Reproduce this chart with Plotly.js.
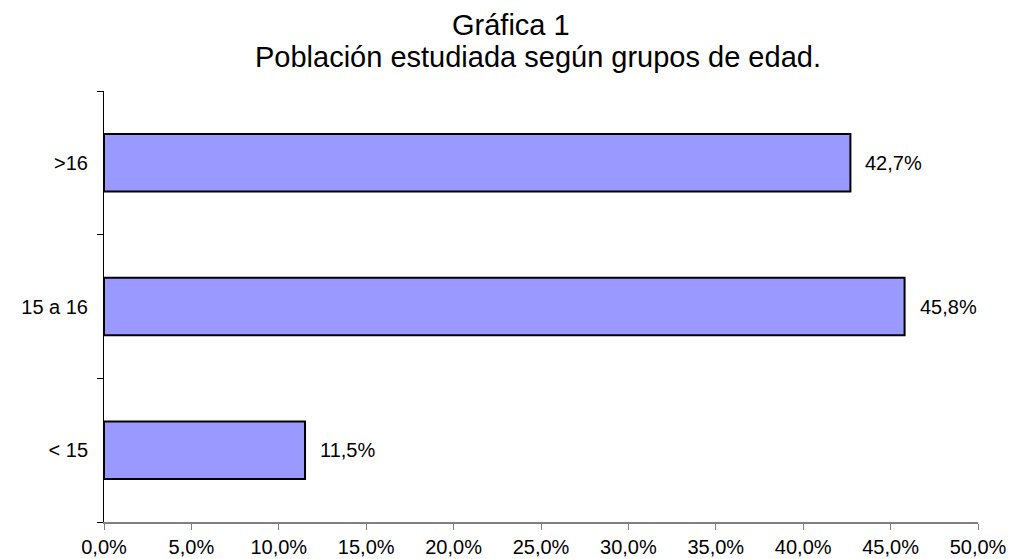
<!DOCTYPE html>
<html>
<head>
<meta charset="utf-8">
<script src="https://cdn.plot.ly/plotly-3.0.1.min.js"></script>
<style>html,body{margin:0;padding:0;background:#fff;}#chart{width:1011px;height:559px;}</style>
</head>
<body>
<div id="chart"></div>
<script>
const titleLine1 = "Gráfica 1";
const titleLine2 = "Población estudiada según grupos de edad.";
const categories = ["< 15", "15 a 16", ">16"];
const values = [11.5, 45.8, 42.7];
const valueLabels = ["11,5%", "45,8%", "42,7%"];
const xTickVals = [0, 5, 10, 15, 20, 25, 30, 35, 40, 45, 50];
const xTickText = ["0,0%", "5,0%", "10,0%", "15,0%", "20,0%", "25,0%", "30,0%", "35,0%", "40,0%", "45,0%", "50,0%"];

const fam = "Liberation Sans, Arial, sans-serif";
const f = (s) => ({family: fam, size: s, color: "#000"});

const trace = {
  type: "bar",
  orientation: "h",
  y: categories,
  x: values,
  width: 0.4,
  marker: {color: "#9999FF", line: {color: "#000", width: 2}},
  hoverinfo: "none"
};

const annotations = categories.map((c, i) => ({
  x: values[i], y: c, xref: "x", yref: "y",
  text: valueLabels[i], showarrow: false,
  xanchor: "left", yanchor: "middle", xshift: 13,
  font: f(20)
}));
annotations.push({
  x: 0.466, y: 1.153, xref: "paper", yref: "paper",
  text: titleLine1, showarrow: false, xanchor: "center", yanchor: "middle",
  font: f(29)
});
annotations.push({
  x: 0.497, y: 1.079, xref: "paper", yref: "paper",
  text: titleLine2, showarrow: false, xanchor: "center", yanchor: "middle",
  font: f(29)
});

const layout = {
  width: 1011, height: 559,
  paper_bgcolor: "#fff", plot_bgcolor: "#fff",
  margin: {l: 104, r: 33, t: 91, b: 37},
  showlegend: false,
  xaxis: {
    range: [0, 50], tickmode: "array", tickvals: xTickVals, ticktext: xTickText,
    showgrid: false, zeroline: false,
    showline: true, linecolor: "#808080", linewidth: 1.5,
    ticks: "outside", ticklen: 6, tickcolor: "#808080", tickwidth: 1,
    tickfont: f(20),
    fixedrange: true
  },
  yaxis: {
    type: "category", range: [-0.5, 2.5],
    showgrid: false, zeroline: false,
    showline: true, linecolor: "#000", linewidth: 1,
    ticks: "outside", tickson: "boundaries", ticklen: 6, tickcolor: "#000", tickwidth: 1,
    tickfont: f(20),
    ticklabelstandoff: 11,
    fixedrange: true
  },
  annotations: annotations
};

Plotly.newPlot("chart", [trace], layout, {displayModeBar: false, staticPlot: true});
</script>
</body>
</html>
